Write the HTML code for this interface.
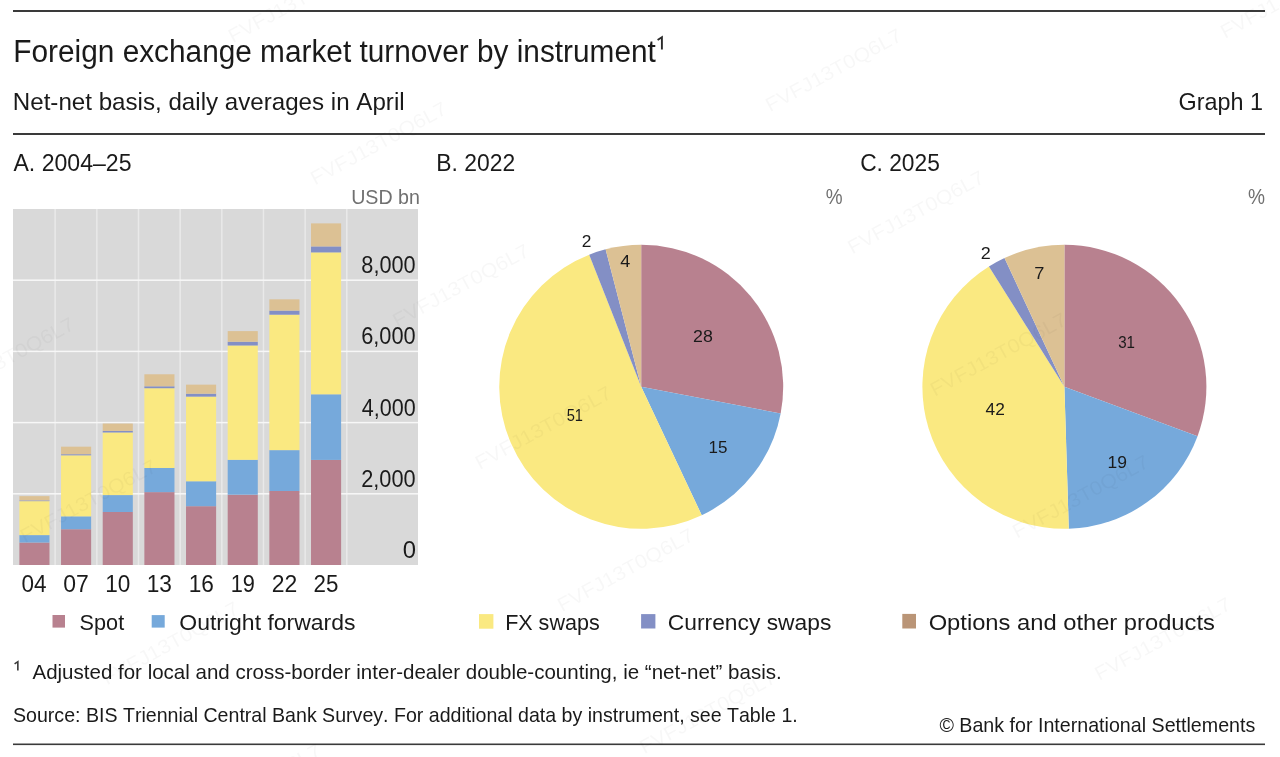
<!DOCTYPE html>
<html><head><meta charset="utf-8"><style>
html,body{margin:0;padding:0;background:#fff;}
svg{display:block;font-family:"Liberation Sans", sans-serif;font-kerning:none;will-change:transform;}
</style></head><body>
<svg width="1280" height="757" viewBox="0 0 1280 757">
<rect width="1280" height="757" fill="#fff"/>
<rect x="13.00" y="10.00" width="1252.00" height="2.00" fill="#3a3a3a"/>
<rect x="13.00" y="133.00" width="1252.00" height="2.00" fill="#3a3a3a"/>
<rect x="13.00" y="743.50" width="1252.00" height="1.60" fill="#3a3a3a"/>
<path d="M657.6,40.0 L661.9,37.3 L661.9,49.4" stroke="#2a2a2a" stroke-width="1.9" fill="none" stroke-linejoin="miter" stroke-miterlimit="10"/>
<rect x="13.00" y="209.00" width="405.00" height="356.00" fill="#d9d9d9"/>
<rect x="54.41" y="209.00" width="1.50" height="356.00" fill="#e9e9e9"/>
<rect x="96.08" y="209.00" width="1.50" height="356.00" fill="#e9e9e9"/>
<rect x="137.74" y="209.00" width="1.50" height="356.00" fill="#e9e9e9"/>
<rect x="179.40" y="209.00" width="1.50" height="356.00" fill="#e9e9e9"/>
<rect x="221.06" y="209.00" width="1.50" height="356.00" fill="#e9e9e9"/>
<rect x="262.73" y="209.00" width="1.50" height="356.00" fill="#e9e9e9"/>
<rect x="304.39" y="209.00" width="1.50" height="356.00" fill="#e9e9e9"/>
<rect x="346.05" y="209.00" width="1.50" height="356.00" fill="#e9e9e9"/>
<rect x="13.00" y="493.05" width="405.00" height="1.50" fill="#f7f7f7"/>
<rect x="13.00" y="421.85" width="405.00" height="1.50" fill="#f7f7f7"/>
<rect x="13.00" y="350.65" width="405.00" height="1.50" fill="#f7f7f7"/>
<rect x="13.00" y="279.45" width="405.00" height="1.50" fill="#f7f7f7"/>
<rect x="19.38" y="542.54" width="30.10" height="22.46" fill="#b8818f"/>
<rect x="19.38" y="535.10" width="30.10" height="7.44" fill="#76a9db"/>
<rect x="19.38" y="501.13" width="30.10" height="33.96" fill="#fae981"/>
<rect x="19.38" y="500.39" width="30.10" height="0.75" fill="#838fc5"/>
<rect x="19.38" y="496.15" width="30.10" height="4.24" fill="#dcc194"/>
<rect x="61.04" y="529.22" width="30.10" height="35.78" fill="#b8818f"/>
<rect x="61.04" y="516.33" width="30.10" height="12.89" fill="#76a9db"/>
<rect x="61.04" y="455.32" width="30.10" height="61.02" fill="#fae981"/>
<rect x="61.04" y="454.21" width="30.10" height="1.10" fill="#838fc5"/>
<rect x="61.04" y="446.67" width="30.10" height="7.55" fill="#dcc194"/>
<rect x="102.71" y="511.99" width="30.10" height="53.01" fill="#b8818f"/>
<rect x="102.71" y="495.08" width="30.10" height="16.91" fill="#76a9db"/>
<rect x="102.71" y="432.46" width="30.10" height="62.62" fill="#fae981"/>
<rect x="102.71" y="430.93" width="30.10" height="1.53" fill="#838fc5"/>
<rect x="102.71" y="423.56" width="30.10" height="7.37" fill="#dcc194"/>
<rect x="144.37" y="492.13" width="30.10" height="72.87" fill="#b8818f"/>
<rect x="144.37" y="467.95" width="30.10" height="24.17" fill="#76a9db"/>
<rect x="144.37" y="388.21" width="30.10" height="79.74" fill="#fae981"/>
<rect x="144.37" y="386.29" width="30.10" height="1.92" fill="#838fc5"/>
<rect x="144.37" y="374.29" width="30.10" height="12.00" fill="#dcc194"/>
<rect x="186.03" y="506.19" width="30.10" height="58.81" fill="#b8818f"/>
<rect x="186.03" y="481.27" width="30.10" height="24.92" fill="#76a9db"/>
<rect x="186.03" y="396.61" width="30.10" height="84.66" fill="#fae981"/>
<rect x="186.03" y="393.69" width="30.10" height="2.92" fill="#838fc5"/>
<rect x="186.03" y="384.65" width="30.10" height="9.04" fill="#dcc194"/>
<rect x="227.69" y="494.69" width="30.10" height="70.31" fill="#b8818f"/>
<rect x="227.69" y="459.80" width="30.10" height="34.89" fill="#76a9db"/>
<rect x="227.69" y="345.49" width="30.10" height="114.31" fill="#fae981"/>
<rect x="227.69" y="341.75" width="30.10" height="3.74" fill="#838fc5"/>
<rect x="227.69" y="331.11" width="30.10" height="10.64" fill="#dcc194"/>
<rect x="269.36" y="490.99" width="30.10" height="74.01" fill="#b8818f"/>
<rect x="269.36" y="450.12" width="30.10" height="40.87" fill="#76a9db"/>
<rect x="269.36" y="314.70" width="30.10" height="135.42" fill="#fae981"/>
<rect x="269.36" y="310.60" width="30.10" height="4.09" fill="#838fc5"/>
<rect x="269.36" y="299.32" width="30.10" height="11.29" fill="#dcc194"/>
<rect x="311.02" y="459.91" width="30.10" height="105.09" fill="#b8818f"/>
<rect x="311.02" y="394.30" width="30.10" height="65.61" fill="#76a9db"/>
<rect x="311.02" y="252.40" width="30.10" height="141.90" fill="#fae981"/>
<rect x="311.02" y="246.42" width="30.10" height="5.98" fill="#838fc5"/>
<rect x="311.02" y="223.38" width="30.10" height="23.03" fill="#dcc194"/>
<path d="M641.20,386.80 L641.20,244.80 A142,142 0 0 1 780.67,413.50 Z" fill="#b8818f"/>
<path d="M641.20,386.80 L780.67,413.50 A142,142 0 0 1 701.74,515.25 Z" fill="#76a9db"/>
<path d="M641.20,386.80 L701.74,515.25 A142,142 0 1 1 589.18,254.67 Z" fill="#fae981"/>
<path d="M641.20,386.80 L589.18,254.67 A142,142 0 0 1 605.63,249.33 Z" fill="#838fc5"/>
<path d="M641.20,386.80 L605.63,249.33 A142,142 0 0 1 641.20,244.80 Z" fill="#dcc194"/>
<path d="M1064.40,386.80 L1064.40,244.80 A142,142 0 0 1 1197.55,436.16 Z" fill="#b8818f"/>
<path d="M1064.40,386.80 L1197.55,436.16 A142,142 0 0 1 1068.77,528.73 Z" fill="#76a9db"/>
<path d="M1064.40,386.80 L1068.77,528.73 A142,142 0 0 1 988.92,266.52 Z" fill="#fae981"/>
<path d="M1064.40,386.80 L988.92,266.52 A142,142 0 0 1 1004.51,258.05 Z" fill="#838fc5"/>
<path d="M1064.40,386.80 L1004.51,258.05 A142,142 0 0 1 1064.40,244.80 Z" fill="#dcc194"/>
<rect x="52.50" y="615.00" width="12.50" height="12.60" fill="#b8818f"/>
<rect x="151.70" y="615.10" width="13.00" height="12.50" fill="#76a9db"/>
<rect x="479.00" y="614.10" width="14.40" height="14.60" fill="#fae981"/>
<rect x="641.10" y="614.10" width="14.30" height="14.40" fill="#838fc5"/>
<rect x="902.30" y="613.90" width="13.70" height="14.60" fill="#ba9577"/>
<path d="M14.6,663.9 L17.85,661.7 L17.85,670.5" stroke="#3a3a3a" stroke-width="1.6" fill="none" stroke-linejoin="miter" stroke-miterlimit="10"/>
<text x="13.36" y="61.90" font-size="30.6" fill="#1a1a1a" textLength="642.46" lengthAdjust="spacingAndGlyphs">Foreign exchange market turnover by instrument</text>
<text x="12.77" y="110.40" font-size="24.6" fill="#1a1a1a" textLength="391.85" lengthAdjust="spacingAndGlyphs">Net-net basis, daily averages in April</text>
<text x="1178.57" y="110.40" font-size="24.6" fill="#1a1a1a" textLength="84.47" lengthAdjust="spacingAndGlyphs">Graph 1</text>
<text x="13.45" y="171.40" font-size="24.6" fill="#1a1a1a" textLength="118.11" lengthAdjust="spacingAndGlyphs">A. 2004–25</text>
<text x="436.22" y="171.40" font-size="24.6" fill="#1a1a1a" textLength="78.93" lengthAdjust="spacingAndGlyphs">B. 2022</text>
<text x="860.14" y="171.40" font-size="24.6" fill="#1a1a1a" textLength="79.71" lengthAdjust="spacingAndGlyphs">C. 2025</text>
<text x="351.18" y="203.50" font-size="21" fill="#707070" textLength="68.79" lengthAdjust="spacingAndGlyphs">USD bn</text>
<text x="825.72" y="203.60" font-size="21.5" fill="#707070" textLength="16.85" lengthAdjust="spacingAndGlyphs">%</text>
<text x="1248.07" y="203.60" font-size="21.5" fill="#707070" textLength="17.01" lengthAdjust="spacingAndGlyphs">%</text>
<text x="21.52" y="592.00" font-size="23" fill="#1a1a1a" textLength="25.04" lengthAdjust="spacingAndGlyphs">04</text>
<text x="63.20" y="592.00" font-size="23" fill="#1a1a1a" textLength="25.55" lengthAdjust="spacingAndGlyphs">07</text>
<text x="105.28" y="592.00" font-size="23" fill="#1a1a1a" textLength="25.10" lengthAdjust="spacingAndGlyphs">10</text>
<text x="146.77" y="592.00" font-size="23" fill="#1a1a1a" textLength="25.22" lengthAdjust="spacingAndGlyphs">13</text>
<text x="188.77" y="592.00" font-size="23" fill="#1a1a1a" textLength="25.22" lengthAdjust="spacingAndGlyphs">16</text>
<text x="230.64" y="592.00" font-size="23" fill="#1a1a1a" textLength="24.19" lengthAdjust="spacingAndGlyphs">19</text>
<text x="271.65" y="592.00" font-size="23" fill="#1a1a1a" textLength="25.51" lengthAdjust="spacingAndGlyphs">22</text>
<text x="313.58" y="592.00" font-size="23" fill="#1a1a1a" textLength="24.86" lengthAdjust="spacingAndGlyphs">25</text>
<text x="402.67" y="558.00" font-size="23" fill="#1a1a1a" textLength="13.26" lengthAdjust="spacingAndGlyphs">0</text>
<text x="361.21" y="486.80" font-size="23" fill="#1a1a1a" textLength="54.44" lengthAdjust="spacingAndGlyphs">2,000</text>
<text x="361.81" y="415.60" font-size="23" fill="#1a1a1a" textLength="53.83" lengthAdjust="spacingAndGlyphs">4,000</text>
<text x="361.19" y="344.40" font-size="23" fill="#1a1a1a" textLength="54.46" lengthAdjust="spacingAndGlyphs">6,000</text>
<text x="361.36" y="273.20" font-size="23" fill="#1a1a1a" textLength="54.29" lengthAdjust="spacingAndGlyphs">8,000</text>
<text x="693.11" y="341.60" font-size="17.3" fill="#1a1a1a" textLength="19.77" lengthAdjust="spacingAndGlyphs">28</text>
<text x="708.61" y="452.50" font-size="17.3" fill="#1a1a1a" textLength="18.91" lengthAdjust="spacingAndGlyphs">15</text>
<text x="566.71" y="421.30" font-size="17.3" fill="#1a1a1a" textLength="16.30" lengthAdjust="spacingAndGlyphs">51</text>
<text x="581.73" y="246.80" font-size="17.3" fill="#1a1a1a" textLength="9.64" lengthAdjust="spacingAndGlyphs">2</text>
<text x="620.19" y="267.00" font-size="17.3" fill="#1a1a1a" textLength="10.04" lengthAdjust="spacingAndGlyphs">4</text>
<text x="1118.22" y="348.40" font-size="17.3" fill="#1a1a1a" textLength="16.81" lengthAdjust="spacingAndGlyphs">31</text>
<text x="1107.47" y="467.50" font-size="17.3" fill="#1a1a1a" textLength="19.46" lengthAdjust="spacingAndGlyphs">19</text>
<text x="985.50" y="414.50" font-size="17.3" fill="#1a1a1a" textLength="19.27" lengthAdjust="spacingAndGlyphs">42</text>
<text x="980.79" y="258.80" font-size="17.3" fill="#1a1a1a" textLength="10.01" lengthAdjust="spacingAndGlyphs">2</text>
<text x="1034.16" y="279.40" font-size="17.3" fill="#1a1a1a" textLength="10.15" lengthAdjust="spacingAndGlyphs">7</text>
<text x="79.62" y="630.20" font-size="21.8" fill="#1a1a1a" textLength="44.54" lengthAdjust="spacingAndGlyphs">Spot</text>
<text x="179.31" y="630.20" font-size="21.8" fill="#1a1a1a" textLength="176.22" lengthAdjust="spacingAndGlyphs">Outright forwards</text>
<text x="505.13" y="630.20" font-size="21.8" fill="#1a1a1a" textLength="94.54" lengthAdjust="spacingAndGlyphs">FX swaps</text>
<text x="667.84" y="630.20" font-size="21.8" fill="#1a1a1a" textLength="163.48" lengthAdjust="spacingAndGlyphs">Currency swaps</text>
<text x="928.68" y="630.20" font-size="21.8" fill="#1a1a1a" textLength="286.18" lengthAdjust="spacingAndGlyphs">Options and other products</text>
<text x="32.46" y="678.60" font-size="19.8" fill="#1a1a1a" textLength="749.21" lengthAdjust="spacingAndGlyphs">Adjusted for local and cross-border inter-dealer double-counting, ie “net-net” basis.</text>
<text x="13.01" y="722.40" font-size="19.8" fill="#1a1a1a" textLength="784.78" lengthAdjust="spacingAndGlyphs">Source: BIS Triennial Central Bank Survey. For additional data by instrument, see Table 1.</text>
<text x="939.40" y="732.40" font-size="19.8" fill="#1a1a1a" textLength="315.91" lengthAdjust="spacingAndGlyphs">© Bank for International Settlements</text>
<g fill="#000000" fill-opacity="0.03"><text transform="translate(234.3,42.5) rotate(-28.6)" x="-1.75" y="0" font-size="19.6" textLength="152.03" lengthAdjust="spacingAndGlyphs">FVFJ13T0Q6L7</text><text transform="translate(689.3,-30.8) rotate(-28.6)" x="-1.75" y="0" font-size="19.6" textLength="152.03" lengthAdjust="spacingAndGlyphs">FVFJ13T0Q6L7</text><text transform="translate(-138.4,258.0) rotate(-28.6)" x="-1.75" y="0" font-size="19.6" textLength="152.03" lengthAdjust="spacingAndGlyphs">FVFJ13T0Q6L7</text><text transform="translate(316.6,184.7) rotate(-28.6)" x="-1.75" y="0" font-size="19.6" textLength="152.03" lengthAdjust="spacingAndGlyphs">FVFJ13T0Q6L7</text><text transform="translate(771.6,111.4) rotate(-28.6)" x="-1.75" y="0" font-size="19.6" textLength="152.03" lengthAdjust="spacingAndGlyphs">FVFJ13T0Q6L7</text><text transform="translate(1226.6,38.1) rotate(-28.6)" x="-1.75" y="0" font-size="19.6" textLength="152.03" lengthAdjust="spacingAndGlyphs">FVFJ13T0Q6L7</text><text transform="translate(-56.1,400.2) rotate(-28.6)" x="-1.75" y="0" font-size="19.6" textLength="152.03" lengthAdjust="spacingAndGlyphs">FVFJ13T0Q6L7</text><text transform="translate(398.9,326.9) rotate(-28.6)" x="-1.75" y="0" font-size="19.6" textLength="152.03" lengthAdjust="spacingAndGlyphs">FVFJ13T0Q6L7</text><text transform="translate(853.9,253.6) rotate(-28.6)" x="-1.75" y="0" font-size="19.6" textLength="152.03" lengthAdjust="spacingAndGlyphs">FVFJ13T0Q6L7</text><text transform="translate(26.2,542.4) rotate(-28.6)" x="-1.75" y="0" font-size="19.6" textLength="152.03" lengthAdjust="spacingAndGlyphs">FVFJ13T0Q6L7</text><text transform="translate(481.2,469.1) rotate(-28.6)" x="-1.75" y="0" font-size="19.6" textLength="152.03" lengthAdjust="spacingAndGlyphs">FVFJ13T0Q6L7</text><text transform="translate(936.2,395.8) rotate(-28.6)" x="-1.75" y="0" font-size="19.6" textLength="152.03" lengthAdjust="spacingAndGlyphs">FVFJ13T0Q6L7</text><text transform="translate(108.5,684.6) rotate(-28.6)" x="-1.75" y="0" font-size="19.6" textLength="152.03" lengthAdjust="spacingAndGlyphs">FVFJ13T0Q6L7</text><text transform="translate(563.5,611.3) rotate(-28.6)" x="-1.75" y="0" font-size="19.6" textLength="152.03" lengthAdjust="spacingAndGlyphs">FVFJ13T0Q6L7</text><text transform="translate(1018.5,538.0) rotate(-28.6)" x="-1.75" y="0" font-size="19.6" textLength="152.03" lengthAdjust="spacingAndGlyphs">FVFJ13T0Q6L7</text><text transform="translate(190.8,826.8) rotate(-28.6)" x="-1.75" y="0" font-size="19.6" textLength="152.03" lengthAdjust="spacingAndGlyphs">FVFJ13T0Q6L7</text><text transform="translate(645.8,753.5) rotate(-28.6)" x="-1.75" y="0" font-size="19.6" textLength="152.03" lengthAdjust="spacingAndGlyphs">FVFJ13T0Q6L7</text><text transform="translate(1100.8,680.2) rotate(-28.6)" x="-1.75" y="0" font-size="19.6" textLength="152.03" lengthAdjust="spacingAndGlyphs">FVFJ13T0Q6L7</text><text transform="translate(728.1,895.7) rotate(-28.6)" x="-1.75" y="0" font-size="19.6" textLength="152.03" lengthAdjust="spacingAndGlyphs">FVFJ13T0Q6L7</text><text transform="translate(1183.1,822.4) rotate(-28.6)" x="-1.75" y="0" font-size="19.6" textLength="152.03" lengthAdjust="spacingAndGlyphs">FVFJ13T0Q6L7</text></g>
</svg></body></html>
